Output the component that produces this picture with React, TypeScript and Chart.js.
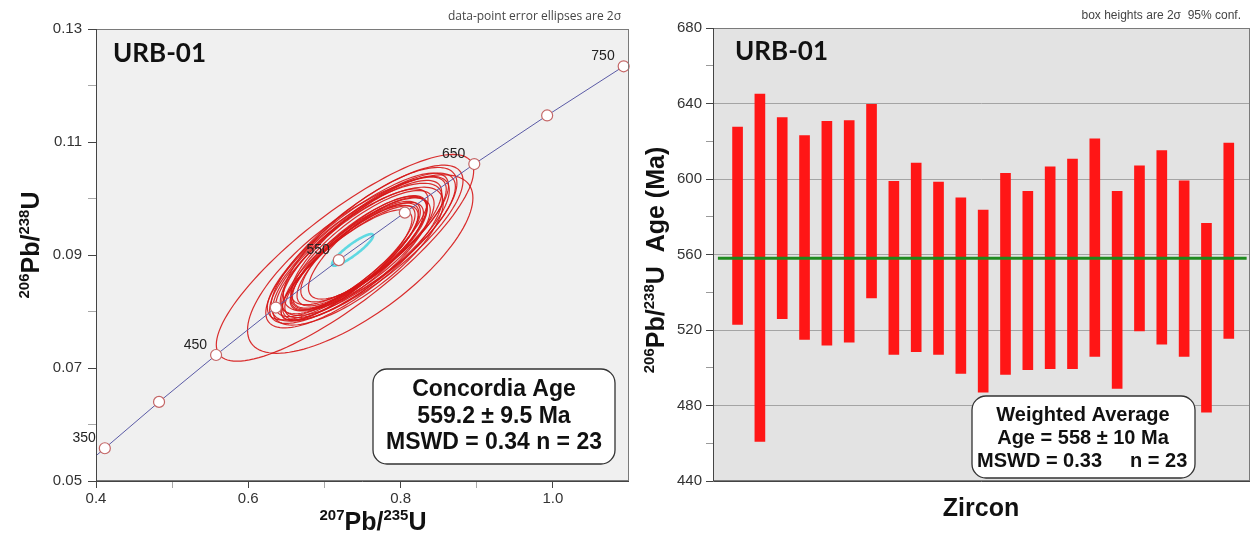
import React, { useEffect, useRef } from "react";
import { Chart, registerables } from "chart.js";

Chart.register(...registerables);

// ---------- Left panel: concordia diagram ----------
const CONCORDIA_AGES = [342, 350, 400, 450, 500, 550, 600, 650, 700, 750];
const CONCORDIA_X = [0.4003, 0.4116, 0.4828, 0.5577, 0.6362, 0.7189, 0.8056, 0.8968, 0.9925, 1.093];
const CONCORDIA_Y = [0.0545, 0.0558, 0.064, 0.0723, 0.0807, 0.0891, 0.0975, 0.1061, 0.1147, 0.1234];
const LABELED_AGES = [350, 450, 550, 650, 750];

// data-point 2σ error ellipses: centre, half-widths, correlation
const ELLIPSE_CX = [0.727, 0.747, 0.756, 0.75, 0.76, 0.744, 0.754, 0.739, 0.748, 0.744, 0.758, 0.736, 0.742, 0.75, 0.739, 0.746, 0.733, 0.741, 0.752, 0.729, 0.744, 0.737, 0.757];
const ELLIPSE_CY = [0.0895, 0.0884, 0.0921, 0.0912, 0.0928, 0.0915, 0.0916, 0.0899, 0.0914, 0.0898, 0.0925, 0.0904, 0.0893, 0.0909, 0.0891, 0.0905, 0.0886, 0.0899, 0.0911, 0.0882, 0.0901, 0.0895, 0.0912];
const ELLIPSE_SX = [0.169, 0.148, 0.126, 0.122, 0.114, 0.119, 0.11, 0.116, 0.106, 0.112, 0.102, 0.1, 0.097, 0.094, 0.091, 0.088, 0.09, 0.085, 0.083, 0.086, 0.08, 0.082, 0.078];
const ELLIPSE_SY = [0.0183, 0.0158, 0.0138, 0.0133, 0.0127, 0.013, 0.0123, 0.0128, 0.0118, 0.0122, 0.0113, 0.0113, 0.0108, 0.0105, 0.0102, 0.0099, 0.0101, 0.0096, 0.0094, 0.0098, 0.0091, 0.0093, 0.009];
const ELLIPSE_RHO = [0.84, 0.74, 0.8, 0.82, 0.78, 0.83, 0.8, 0.79, 0.82, 0.77, 0.81, 0.83, 0.8, 0.78, 0.82, 0.8, 0.84, 0.81, 0.79, 0.83, 0.8, 0.82, 0.78];

// concordia age ellipse (cyan)
const CONC_AGE_CX = 0.737;
const CONC_AGE_CY = 0.0909;
const CONC_AGE_SX = 0.027;
const CONC_AGE_SY = 0.0028;
const CONC_AGE_RHO = 0.9;

const LEFT_X_TICKS = [0.4, 0.5, 0.6, 0.7, 0.8, 0.9, 1.0];
const LEFT_Y_TICKS = [0.05, 0.06, 0.07, 0.08, 0.09, 0.1, 0.11, 0.12, 0.13];

// ---------- Right panel: weighted average ----------
const ZIRCON_LOW = [523, 461, 526, 515, 512, 513.5, 537, 507, 508.5, 507, 497, 487, 496.5, 499, 499.5, 499.5, 506, 489, 519.5, 512.5, 506, 476.5, 515.5];
const ZIRCON_HIGH = [627.5, 645, 632.5, 623, 630.5, 631, 639.5, 598.7, 608.5, 598.4, 590, 583.5, 603, 593.5, 606.5, 610.5, 621.3, 593.5, 607, 615, 599, 576.5, 619];
const MEAN_AGE = 558;
const RIGHT_Y_TICKS = [440, 460, 480, 500, 520, 540, 560, 580, 600, 620, 640, 660, 680];
const RIGHT_X_MIN = -0.1;
const RIGHT_X_MAX = 23.95;

const FONT = '"Liberation Sans", Arial, Helvetica, sans-serif';

type Seg = { t: string; sup?: boolean };

function drawRich(ctx: CanvasRenderingContext2D, segs: Seg[], x: number, y: number, size: number, supSize: number, rotate: boolean) {
  ctx.save();
  ctx.translate(x, y);
  if (rotate) ctx.rotate(-Math.PI / 2);
  const big = `bold ${size}px ${FONT}`;
  const small = `bold ${supSize}px ${FONT}`;
  let w = 0;
  for (const s of segs) {
    ctx.font = s.sup ? small : big;
    w += ctx.measureText(s.t).width;
  }
  let cx = -w / 2;
  ctx.textAlign = "left";
  ctx.textBaseline = "alphabetic";
  ctx.fillStyle = "#111";
  for (const s of segs) {
    ctx.font = s.sup ? small : big;
    ctx.fillText(s.t, cx, s.sup ? -size * 0.4 : 0);
    cx += ctx.measureText(s.t).width;
  }
  ctx.restore();
}

function plotFrame(ctx: CanvasRenderingContext2D, a: { left: number; right: number; top: number; bottom: number }) {
  ctx.save();
  ctx.strokeStyle = "#7a7a7a";
  ctx.lineWidth = 1;
  ctx.strokeRect(Math.round(a.left) + 0.5, Math.round(a.top) + 0.5, Math.round(a.right - a.left) - 1, Math.round(a.bottom - a.top) - 1);
  ctx.strokeStyle = "#444";
  ctx.beginPath();
  ctx.moveTo(Math.round(a.left) + 0.5, Math.round(a.top));
  ctx.lineTo(Math.round(a.left) + 0.5, Math.round(a.bottom) + 0.5);
  ctx.lineTo(Math.round(a.right), Math.round(a.bottom) + 0.5);
  ctx.stroke();
  ctx.restore();
}

function infoBox(ctx: CanvasRenderingContext2D, x: number, y: number, w: number, h: number) {
  ctx.save();
  ctx.beginPath();
  (ctx as any).roundRect(x, y, w, h, 14);
  ctx.fillStyle = "#fff";
  ctx.fill();
  ctx.strokeStyle = "#333";
  ctx.lineWidth = 1.3;
  ctx.stroke();
  ctx.restore();
}

function ellipsePath(chart: any, cx: number, cy: number, sx: number, sy: number, rho: number) {
  const xs = chart.scales.x;
  const ys = chart.scales.y;
  const ctx = chart.ctx as CanvasRenderingContext2D;
  const k = Math.sqrt(1 - rho * rho);
  ctx.beginPath();
  const n = 120;
  for (let i = 0; i <= n; i++) {
    const th = (i / n) * Math.PI * 2;
    const dx = sx * Math.cos(th);
    const dy = sy * (rho * Math.cos(th) + k * Math.sin(th));
    const px = xs.getPixelForValue(cx + dx);
    const py = ys.getPixelForValue(cy + dy);
    if (i === 0) ctx.moveTo(px, py);
    else ctx.lineTo(px, py);
  }
  ctx.closePath();
}

const leftDecor = {
  id: "leftDecor",
  beforeDraw(chart: any) {
    const { ctx, chartArea: a } = chart;
    ctx.save();
    ctx.fillStyle = "#f0f0f0";
    ctx.fillRect(a.left, a.top, a.right - a.left, a.bottom - a.top);
    ctx.restore();
  },
  beforeDatasetsDraw(chart: any) {
    const { ctx, chartArea: a } = chart;
    ctx.save();
    ctx.beginPath();
    ctx.rect(a.left, a.top, a.right - a.left, a.bottom - a.top);
    ctx.clip();
    ctx.strokeStyle = "rgba(214,22,22,0.9)";
    ctx.lineWidth = 1.2;
    for (let i = 0; i < ELLIPSE_CX.length; i++) {
      ellipsePath(chart, ELLIPSE_CX[i], ELLIPSE_CY[i], ELLIPSE_SX[i], ELLIPSE_SY[i], ELLIPSE_RHO[i]);
      ctx.stroke();
    }
    ctx.strokeStyle = "#5fd9e2";
    ctx.lineWidth = 2.6;
    ellipsePath(chart, CONC_AGE_CX, CONC_AGE_CY, CONC_AGE_SX, CONC_AGE_SY, CONC_AGE_RHO);
    ctx.stroke();
    ctx.restore();
  },
  afterDatasetsDraw(chart: any) {
    const { ctx } = chart;
    const xs = chart.scales.x;
    const ys = chart.scales.y;
    ctx.save();
    ctx.font = `14px ${FONT}`;
    ctx.fillStyle = "#222";
    ctx.textAlign = "right";
    ctx.textBaseline = "middle";
    for (const age of LABELED_AGES) {
      const i = CONCORDIA_AGES.indexOf(age);
      const px = xs.getPixelForValue(CONCORDIA_X[i]);
      const py = ys.getPixelForValue(CONCORDIA_Y[i]);
      ctx.fillText(String(age), px - 9, py - 10);
    }
    ctx.restore();
  },
  afterDraw(chart: any) {
    const { ctx, chartArea: a } = chart;
    plotFrame(ctx, a);
    ctx.save();
    ctx.fillStyle = "#111";
    ctx.font = `bold 26px Lato, "Open Sans", sans-serif`;
    ctx.textAlign = "left";
    ctx.textBaseline = "alphabetic";
    ctx.fillText("URB-01", 113, 62);
    ctx.font = `12px "Open Sans", ${FONT}`;
    ctx.fillStyle = "#444";
    ctx.textAlign = "right";
    ctx.textBaseline = "middle";
    ctx.fillText("data-point error ellipses are 2σ", 621, 17);
    infoBox(ctx, 373, 369, 242, 95);
    ctx.fillStyle = "#111";
    ctx.textAlign = "center";
    ctx.font = `bold 23px ${FONT}`;
    ctx.fillText("Concordia Age", 494, 390);
    ctx.fillText("559.2 ± 9.5 Ma", 494, 417);
    ctx.fillText("MSWD = 0.34 n = 23", 494, 443);
    ctx.restore();
    drawRich(ctx, [{ t: "207", sup: true }, { t: "Pb/" }, { t: "235", sup: true }, { t: "U" }], 373, 530, 25, 15, false);
    drawRich(ctx, [{ t: "206", sup: true }, { t: "Pb/" }, { t: "238", sup: true }, { t: "U" }], 39, 245, 25, 15, true);
  },
};

const rightDecor = {
  id: "rightDecor",
  beforeDraw(chart: any) {
    const { ctx, chartArea: a } = chart;
    ctx.save();
    ctx.fillStyle = "#e3e3e3";
    ctx.fillRect(a.left, a.top, a.right - a.left, a.bottom - a.top);
    ctx.restore();
  },
  afterDraw(chart: any) {
    const { ctx, chartArea: a } = chart;
    plotFrame(ctx, a);
    ctx.save();
    ctx.fillStyle = "#111";
    ctx.font = `bold 26px Lato, "Open Sans", sans-serif`;
    ctx.textAlign = "left";
    ctx.textBaseline = "alphabetic";
    ctx.fillText("URB-01", 95, 60);
    ctx.font = `12px ${FONT}`;
    ctx.fillStyle = "#444";
    ctx.textAlign = "right";
    ctx.textBaseline = "middle";
    ctx.fillText("box heights are 2σ  95% conf.", 601, 16);
    infoBox(ctx, 332, 396, 223, 82);
    ctx.fillStyle = "#111";
    ctx.font = `bold 20px ${FONT}`;
    ctx.textAlign = "center";
    ctx.fillText("Weighted Average", 443, 415);
    ctx.fillText("Age = 558 ± 10 Ma", 443, 438);
    ctx.textAlign = "left";
    ctx.fillText("MSWD = 0.33", 337, 461);
    ctx.fillText("n = 23", 490, 461);
    ctx.font = `bold 25px ${FONT}`;
    ctx.textAlign = "center";
    ctx.textBaseline = "alphabetic";
    ctx.fillText("Zircon", 341, 516);
    ctx.restore();
    drawRich(ctx, [{ t: "206", sup: true }, { t: "Pb/" }, { t: "238", sup: true }, { t: "U  Age (Ma)" }], 24, 260, 25, 15, true);
  },
};

function isMajorLeftX(v: number) {
  return Math.round(v * 10) % 2 === 0;
}
function isMajorLeftY(v: number) {
  return Math.round(v * 100) % 2 === 1;
}

function LeftChart() {
  const ref = useRef<HTMLCanvasElement>(null);
  useEffect(() => {
    if (!ref.current) return;
    const curve = CONCORDIA_AGES.map((_, i) => ({ x: CONCORDIA_X[i], y: CONCORDIA_Y[i] }));
    const markers = curve.filter((_, i) => CONCORDIA_AGES[i] % 50 === 0);
    const chart = new Chart(ref.current, {
      type: "scatter",
      data: {
        datasets: [
          {
            type: "line",
            label: "Concordia",
            data: curve,
            borderColor: "#5b5ba6",
            borderWidth: 1,
            pointRadius: 0,
            tension: 0,
            order: 1,
          } as any,
          {
            type: "scatter",
            label: "Age markers",
            data: markers,
            pointRadius: 5.5,
            pointBackgroundColor: "#ffffff",
            pointBorderColor: "#c46666",
            pointBorderWidth: 1.2,
            clip: false,
            order: 0,
          } as any,
        ],
      },
      options: {
        responsive: false,
        animation: false,
        devicePixelRatio: 1,
        layout: { padding: { left: 0, top: 29, right: 11, bottom: 0 } },
        plugins: { legend: { display: false }, tooltip: { enabled: false } },
        scales: {
          x: {
            type: "linear",
            min: 0.4,
            max: 1.1,
            afterBuildTicks: (s: any) => {
              s.ticks = LEFT_X_TICKS.map((v) => ({ value: v }));
            },
            afterFit: (s: any) => {
              s.height = 54;
            },
            ticks: {
              callback: (v: any) => (isMajorLeftX(Number(v)) ? Number(v).toFixed(1) : ""),
              font: { family: FONT, size: 15 },
              color: "#333",
              padding: 2,
              maxRotation: 0,
              autoSkip: false,
            },
            grid: {
              drawOnChartArea: false,
              tickLength: 7,
              tickColor: (c: any) => (c.tick && isMajorLeftX(c.tick.value) ? "#444" : "#a8a8a8"),
            },
            border: { display: false },
          },
          y: {
            type: "linear",
            min: 0.05,
            max: 0.13,
            afterBuildTicks: (s: any) => {
              s.ticks = LEFT_Y_TICKS.map((v) => ({ value: v }));
            },
            afterFit: (s: any) => {
              s.width = 96;
            },
            ticks: {
              callback: (v: any) => (isMajorLeftY(Number(v)) ? Number(v).toFixed(2) : ""),
              font: { family: FONT, size: 15 },
              color: "#333",
              padding: 6,
              autoSkip: false,
            },
            grid: {
              drawOnChartArea: false,
              tickLength: 8,
              tickColor: (c: any) => (c.tick && isMajorLeftY(c.tick.value) ? "#444" : "#a8a8a8"),
            },
            border: { display: false },
          },
        },
      } as any,
      plugins: [leftDecor],
    });
    return () => chart.destroy();
  }, []);
  return <canvas ref={ref} width={640} height={535} style={{ position: "absolute", left: 0, top: 0 }} />;
}

function RightChart() {
  const ref = useRef<HTMLCanvasElement>(null);
  useEffect(() => {
    if (!ref.current) return;
    const bars = ZIRCON_LOW.map((lo, i) => ({ x: i + 1, y: [lo, ZIRCON_HIGH[i]] }));
    const meanLine = [
      { x: RIGHT_X_MIN + 0.22, y: MEAN_AGE },
      { x: RIGHT_X_MAX - 0.15, y: MEAN_AGE },
    ];
    const chart = new Chart(ref.current, {
      type: "bar",
      data: {
        datasets: [
          {
            type: "line",
            label: "Weighted mean",
            data: meanLine,
            borderColor: "#1f8a1f",
            borderWidth: 3,
            pointRadius: 0,
            order: 0,
          } as any,
          {
            type: "bar",
            label: "Zircon ages",
            data: bars,
            backgroundColor: "#ff1616",
            borderWidth: 0,
            barThickness: 10,
            order: 1,
          } as any,
        ],
      },
      options: {
        responsive: false,
        animation: false,
        devicePixelRatio: 1,
        layout: { padding: { left: 0, top: 28, right: 3, bottom: 0 } },
        plugins: { legend: { display: false }, tooltip: { enabled: false } },
        scales: {
          x: {
            type: "linear",
            min: RIGHT_X_MIN,
            max: RIGHT_X_MAX,
            offset: false,
            afterFit: (s: any) => {
              s.height = 54;
            },
            ticks: { display: false },
            grid: { display: false },
            border: { display: false },
          },
          y: {
            type: "linear",
            min: 440,
            max: 680,
            afterBuildTicks: (s: any) => {
              s.ticks = RIGHT_Y_TICKS.map((v) => ({ value: v }));
            },
            afterFit: (s: any) => {
              s.width = 73;
            },
            ticks: {
              callback: (v: any) => (Number(v) % 40 === 0 ? String(v) : ""),
              font: { family: FONT, size: 15 },
              color: "#333",
              padding: 4,
              autoSkip: false,
            },
            grid: {
              color: (c: any) => {
                const v = c.tick ? c.tick.value : 0;
                return v % 40 === 0 && v > 440 && v < 680 ? "#a4a4a4" : "rgba(0,0,0,0)";
              },
              tickColor: (c: any) => {
                const v = c.tick ? c.tick.value : 0;
                return v % 40 === 0 ? "#444" : "#9a9a9a";
              },
              tickLength: 7,
            },
            border: { display: false },
          },
        },
      } as any,
      plugins: [rightDecor],
    });
    return () => chart.destroy();
  }, []);
  return <canvas ref={ref} width={613} height={535} style={{ position: "absolute", left: 640, top: 0 }} />;
}

export default function App() {
  return (
    <div style={{ position: "fixed", left: 0, top: 0, width: 1253, height: 535, background: "#fff", overflow: "hidden" }}>
      <LeftChart />
      <RightChart />
    </div>
  );
}
